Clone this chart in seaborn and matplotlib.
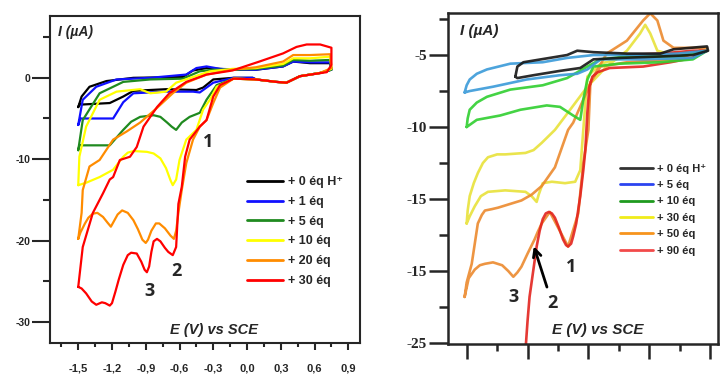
import numpy as np
import pandas as pd
import matplotlib
matplotlib.use("Agg")
import matplotlib.pyplot as plt
from matplotlib.lines import Line2D
import seaborn as sns

# ---------------- left panel: E (V) / I (uA) loops ----------------
left_labels = ["+ 0 éq H⁺", "+ 1 éq", "+ 5 éq", "+ 10 éq", "+ 20 éq", "+ 30 éq"]
left_colors = ["#000000", "#1010ff", "#1f8a1f", "#ffff00", "#ff8c00", "#ff0000"]

L0_E = [-1.50, -1.47, -1.40, -1.25, -1.01, -0.57, -0.48, -0.36, -0.13, 0.08, 0.32, 0.41, 0.56, 0.74,
        0.75, 0.65, 0.47, 0.41, 0.35, 0.26, 0.08, 0.05, -0.12, -0.30, -0.39, -0.45, -0.72, -1.01,
        -1.10, -1.22, -1.49, -1.50]
L0_I = [-3.6, -2.3, -1.1, -0.4, 0.0, 0.1, 0.9, 1.2, 1.0, 1.0, 1.4, 2.0, 1.8, 1.8,
        1.0, 0.6, 0.2, -0.2, -0.6, -0.5, -0.2, 0.0, 0.0, -0.2, -1.2, -1.5, -1.4, -1.6,
        -2.3, -3.1, -3.3, -3.6]

L1_E = [-1.50, -1.46, -1.34, -1.16, -0.86, -0.54, -0.45, -0.36, -0.24, -0.05, 0.08, 0.32, 0.41, 0.56,
        0.74, 0.75, 0.65, 0.47, 0.41, 0.35, 0.26, 0.08, 0.05, -0.12, -0.30, -0.36, -0.42, -0.48,
        -0.72, -1.01, -1.10, -1.19, -1.31, -1.48, -1.50]
L1_I = [-5.8, -2.7, -1.1, -0.2, 0.0, 0.4, 1.2, 1.4, 1.1, 1.0, 1.0, 1.4, 2.0, 1.9,
        1.9, 1.0, 0.6, 0.2, -0.2, -0.6, -0.5, -0.2, 0.0, 0.0, -0.6, -1.2, -1.8, -1.7,
        -1.7, -1.9, -3.0, -5.0, -5.0, -5.0, -5.8]

L5_E = [-1.50, -1.46, -1.31, -1.10, -0.86, -0.57, -0.42, -0.30, -0.13, 0.08, 0.32, 0.41, 0.56, 0.74,
        0.75, 0.65, 0.47, 0.41, 0.35, 0.26, 0.08, -0.12, -0.27, -0.36, -0.42, -0.51, -0.58, -0.63,
        -0.67, -0.71, -0.77, -0.83, -0.95, -1.03, -1.10, -1.22, -1.37, -1.49, -1.50]
L5_I = [-8.9, -5.2, -1.9, -0.5, -0.2, -0.1, 0.8, 1.0, 1.0, 1.1, 1.5, 2.2, 2.1, 2.2,
        1.0, 0.6, 0.2, -0.2, -0.6, -0.5, -0.2, -0.1, -0.9, -2.7, -4.3, -4.8, -5.5, -6.4,
        -6.0, -5.5, -4.8, -4.6, -4.8, -5.4, -6.4, -8.3, -8.3, -8.3, -8.9]

L10_E = [-1.50, -1.49, -1.43, -1.31, -1.16, -0.95, -0.86, -0.72, -0.63, -0.48, -0.33, -0.13, 0.08,
         0.32, 0.41, 0.56, 0.74, 0.75, 0.65, 0.47, 0.41, 0.35, 0.26, 0.08, -0.12, -0.27, -0.33,
         -0.39, -0.45, -0.54, -0.60, -0.63, -0.66, -0.68, -0.72, -0.77, -0.83, -0.89, -1.01,
         -1.06, -1.10, -1.19, -1.31, -1.43, -1.50]
L10_I = [-13.2, -9.7, -6.0, -2.7, -1.7, -1.4, -1.9, -1.7, -0.6, 0.1, 0.8, 1.1, 1.2,
         1.7, 2.4, 2.4, 2.6, 1.1, 0.6, 0.2, -0.2, -0.6, -0.5, -0.2, -0.1, -1.1, -2.7,
         -3.9, -6.4, -7.6, -10.1, -12.5, -13.2, -12.6, -11.1, -9.9, -9.3, -9.1, -9.0,
         -9.2, -9.7, -11.3, -12.2, -12.9, -13.2]

L20_E = [-1.50, -1.47, -1.46, -1.40, -1.31, -1.19, -1.07, -0.95, -0.80, -0.66, -0.54, -0.36, -0.13,
         0.08, 0.32, 0.41, 0.56, 0.74, 0.75, 0.65, 0.47, 0.41, 0.35, 0.26, 0.08, -0.12, -0.24,
         -0.30, -0.36, -0.42, -0.48, -0.54, -0.58, -0.61, -0.63, -0.65, -0.68, -0.73, -0.78,
         -0.81, -0.85, -0.88, -0.90, -0.93, -0.97, -1.01, -1.06, -1.11, -1.15, -1.19, -1.21,
         -1.24, -1.28, -1.33, -1.37, -1.41, -1.44, -1.48, -1.50]
L20_I = [-19.8, -16.6, -13.8, -10.9, -10.1, -7.6, -6.6, -5.5, -3.7, -1.9, -0.6, 0.4, 1.0,
         1.3, 2.0, 2.8, 2.8, 2.9, 1.2, 0.6, 0.2, -0.2, -0.6, -0.5, -0.2, -0.1, -1.2,
         -3.1, -5.2, -6.0, -7.6, -10.5, -13.8, -16.6, -18.8, -19.8, -19.4, -18.5, -17.9,
         -17.9, -18.8, -19.9, -20.3, -19.9, -18.6, -17.5, -16.6, -16.3, -16.8, -17.8, -18.3,
         -17.8, -17.1, -16.6, -16.7, -17.2, -17.9, -19.0, -19.8]

L30_E = [-1.50, -1.46, -1.37, -1.28, -1.22, -1.19, -1.13, -1.04, -0.98, -0.92, -0.80, -0.69, -0.54,
         -0.36, -0.13, 0.11, 0.32, 0.44, 0.53, 0.65, 0.75, 0.75, 0.71, 0.47, 0.41, 0.35, 0.26, 0.08,
         -0.12, -0.24, -0.30, -0.36, -0.42, -0.51, -0.55, -0.58, -0.61, -0.63, -0.66, -0.70,
         -0.73, -0.77, -0.80, -0.83, -0.85, -0.87, -0.89, -0.91, -0.94, -0.98, -1.03, -1.06,
         -1.10, -1.14, -1.17, -1.20, -1.22, -1.26, -1.29, -1.34, -1.38, -1.43, -1.47, -1.50]
L30_I = [-25.7, -20.8, -16.6, -14.2, -12.5, -12.2, -10.1, -9.7, -8.5, -6.0, -3.6, -1.9, -0.5,
         0.4, 0.9, 2.0, 3.0, 3.8, 4.1, 4.1, 3.7, 1.6, 0.7, 0.2, -0.2, -0.6, -0.5, -0.2,
         -0.1, -0.9, -2.3, -5.2, -6.0, -7.6, -9.7, -13.4, -15.5, -20.8, -21.8, -21.4,
         -20.9, -20.1, -19.8, -20.1, -21.4, -23.2, -23.9, -23.6, -22.6, -21.6, -21.5, -21.8,
         -23.0, -24.8, -26.3, -27.7, -28.0, -27.7, -27.6, -27.9, -27.5, -26.5, -25.9, -25.7]

left_E = [L0_E, L1_E, L5_E, L10_E, L20_E, L30_E]
left_I = [L0_I, L1_I, L5_I, L10_I, L20_I, L30_I]

# ---------------- right panel ----------------
right_labels = ["+ 0 éq H⁺", "+ 5 éq", "+ 10 éq", "+ 30 éq", "+ 50 éq", "+ 90 éq"]
right_line_colors = ["#151515", "#3a9ad9", "#2fcf2f", "#e8e23a", "#ec8a2e", "#e3241f"]
right_legend_colors = ["#333333", "#2b44f0", "#1f9a1f", "#f0ec1a", "#f7941d", "#f24a4a"]

R0_E = [-1.02, -1.00, -0.94, -0.51, -0.41, -0.25, 0.08, 0.41, 0.54, 0.87, 0.88,
        0.73, 0.41, 0.01, -0.25, -0.38, -0.58, -0.84, -1.00, -1.02]
R0_I = [-6.5, -5.8, -5.5, -5.0, -4.7, -4.8, -4.9, -4.9, -4.6, -4.4, -4.7,
        -5.0, -5.1, -5.2, -5.3, -5.9, -6.1, -6.4, -6.6, -6.5]

R5_E = [-1.52, -1.50, -1.47, -1.40, -1.30, -1.07, -0.75, -0.51, -0.25, 0.08, 0.58, 0.87,
        0.73, 0.24, -0.18, -0.31, -0.41, -0.58, -0.91, -1.24, -1.47, -1.52]
R5_I = [-7.6, -7.1, -6.7, -6.3, -6.0, -5.6, -5.5, -5.2, -5.0, -5.0, -4.9, -4.7,
        -5.2, -5.3, -5.3, -6.0, -6.3, -6.4, -6.7, -7.2, -7.5, -7.6]

R10_E = [-1.50, -1.49, -1.47, -1.40, -1.30, -1.07, -0.75, -0.51, -0.31, -0.18, 0.08, 0.58, 0.87,
         0.73, 0.41, 0.01, -0.25, -0.31, -0.35, -0.38, -0.45, -0.58, -0.71, -0.97, -1.17, -1.40, -1.50]
R10_I = [-10.0, -9.4, -8.8, -8.3, -7.9, -7.4, -7.1, -6.6, -5.8, -5.3, -5.1, -5.1, -4.7,
         -5.3, -5.5, -5.6, -5.8, -6.7, -8.1, -9.5, -9.2, -8.6, -8.5, -8.8, -9.2, -9.5, -10.0]

R30_E = [-1.50, -1.49, -1.47, -1.43, -1.39, -1.34, -1.29, -1.20, -1.12, -0.92, -0.84, -0.76, -0.63,
         -0.48, -0.31, -0.12, 0.08, 0.21, 0.26, 0.31, 0.38, 0.48, 0.87, 0.58, 0.08, -0.18, -0.31,
         -0.35, -0.38, -0.43, -0.53, -0.66, -0.75, -0.79, -0.81, -0.86, -0.92, -1.12, -1.29,
         -1.36, -1.42, -1.47, -1.50]
R30_I = [-16.7, -15.8, -14.8, -13.9, -13.2, -12.5, -12.1, -11.9, -11.9, -11.8, -11.6, -11.1, -10.2,
         -8.8, -7.2, -5.8, -4.7, -3.5, -2.9, -3.5, -4.7, -4.9, -4.7, -5.1, -5.1, -5.6, -6.5,
         -10.2, -13.0, -13.8, -13.9, -13.8, -13.9, -14.7, -15.2, -14.8, -14.5, -14.4, -14.5,
         -14.8, -15.5, -16.2, -16.7]

R50_E = [-1.52, -1.50, -1.45, -1.39, -1.35, -1.32, -1.25, -1.19, -0.96, -0.86, -0.76, -0.63, -0.50,
         -0.45, -0.35, -0.25, -0.12, 0.08, 0.24, 0.31, 0.38, 0.44, 0.54, 0.87, 0.58, 0.08, -0.18,
         -0.28, -0.30, -0.35, -0.40, -0.50, -0.68, -0.76, -0.80, -0.83, -0.90, -0.96, -1.00,
         -1.04, -1.09, -1.15, -1.24, -1.32, -1.37, -1.42, -1.48, -1.52]
R50_I = [-21.8, -20.8, -19.5, -16.7, -16.1, -15.8, -15.7, -15.6, -15.1, -14.7, -14.1, -12.8, -10.2,
         -9.7, -8.1, -6.5, -4.9, -4.0, -2.6, -2.1, -2.6, -4.0, -4.5, -4.5, -5.3, -5.5, -5.8,
         -6.9, -10.2, -12.5, -16.0, -18.3, -15.9, -16.7, -17.3, -17.8, -18.8, -19.7, -20.1,
         -20.4, -20.0, -19.6, -19.4, -19.5, -19.6, -19.9, -20.5, -21.8]

R90_E = [-0.92, -0.90, -0.88, -0.84, -0.81, -0.78, -0.75, -0.72, -0.69, -0.66, -0.63, -0.59, -0.55,
         -0.52, -0.50, -0.47, -0.45, -0.42, -0.38, -0.35, -0.33, -0.31, -0.29, -0.26, -0.21,
         -0.09, 0.24, 0.51, 0.73, 0.87, 0.73, 0.41, 0.08]
R90_I = [-25.5, -23.5, -21.8, -19.8, -18.3, -17.2, -16.4, -16.0, -15.9, -16.0, -16.3, -17.0, -17.8,
         -18.2, -18.3, -18.1, -17.6, -16.7, -14.8, -13.0, -11.6, -9.0, -7.2, -6.5, -6.2,
         -5.9, -5.8, -5.5, -5.2, -4.7, -4.7, -4.9, -5.0]

right_E = [R0_E, R5_E, R10_E, R30_E, R50_E, R90_E]
right_I = [R0_I, R5_I, R10_I, R30_I, R50_I, R90_I]
right_order = [3, 4, 5, 2, 1, 0]

left_xticks = [-1.5, -1.2, -0.9, -0.6, -0.3, 0.0, 0.3, 0.6, 0.9]
left_xticklabels = ["-1,5", "-1,2", "-0,9", "-0,6", "-0,3", "0,0", "0,3", "0,6", "0,9"]
left_yticks = [0, -10, -20, -30]
right_yticks = [-5, -10, -15, -20, -25]
right_yticklabels = ["-5", "-10", "-15", "-15", "-25"]

# peak numbers: (text, E, I)
left_peaks = [("1", -0.35, -7.9), ("2", -0.63, -23.7), ("3", -0.87, -26.2)]
right_peaks = [("1", -0.47, -19.7), ("2", -0.65, -22.2), ("3", -1.04, -21.8)]
right_arrow = ((-0.846, -18.1), (-0.70, -21.3))

sns.set_style("ticks")
plt.rcParams["font.family"] = ["Liberation Sans", "DejaVu Sans"]
plt.rcParams["axes.linewidth"] = 1.5

fig = plt.figure(figsize=(7.2, 3.76), dpi=100)
ax1 = fig.add_axes([50 / 720, 1 - 343 / 376, 310 / 720, 327 / 376])
ax2 = fig.add_axes([448 / 720, 1 - 344 / 376, 270 / 720, 331 / 376])

for E, I, c in zip(left_E, left_I, left_colors):
    sns.lineplot(x=E, y=I, sort=False, estimator=None, color=c, lw=1.6, ax=ax1)

for k in right_order:
    sns.lineplot(x=right_E[k], y=right_I[k], sort=False, estimator=None,
                 color=right_line_colors[k], lw=1.9, alpha=0.9, ax=ax2)

# ---- left axis styling
ax1.set_xlim(-1.751, 1.004)
ax1.set_ylim(-32.6, 7.6)
ax1.set_xticks(left_xticks)
ax1.set_xticklabels(left_xticklabels, fontweight="bold", fontsize=8)
ax1.set_xticks(np.array(left_xticks) - 0.15, minor=True)
ax1.set_yticks(left_yticks)
ax1.set_yticklabels([str(v) for v in left_yticks], fontweight="bold", fontsize=7.5)
ax1.set_yticks([5, -5, -15, -25], minor=True)
ax1.tick_params(axis="x", which="major", length=5, width=1.5, pad=10)
ax1.tick_params(axis="x", which="minor", length=3, width=1.5)
ax1.tick_params(axis="y", which="major", length=13, width=1.5, pad=1)
ax1.tick_params(axis="y", which="minor", length=5, width=1.5)
ax1.set_xlabel("")
ax1.set_ylabel("")
ax1.text(0.026, 0.951, "I (µA)", transform=ax1.transAxes, fontsize=10,
         fontweight="bold", style="italic", va="center", ha="left")
ax1.text(0.529, 0.040, "E (V) vs SCE", transform=ax1.transAxes, fontsize=10.5,
         fontweight="bold", style="italic", va="center", ha="center")
for t, e, i in left_peaks:
    ax1.text(e, i, t, fontsize=13, fontweight="bold", ha="center", va="center",
             family=["Open Sans", "DejaVu Sans"])

h1 = [Line2D([0], [0], color=c, lw=2) for c in left_colors]
ax1.legend(h1, left_labels, loc="upper left", bbox_to_anchor=(0.635, 0.51),
           frameon=False, borderaxespad=0, borderpad=0, handlelength=2.9,
           handletextpad=0.4, labelspacing=0.62,
           prop={"weight": "bold", "size": 9})

# ---- right axis styling
ax2.set_xlim(-1.684, 0.978)
ax2.set_ylim(-25.07, -2.08)
ax2.set_xticks([-1.5, -0.9, -0.3, 0.3, 0.9])
ax2.set_xticks([-1.2, -0.6, 0.0, 0.6], minor=True)
ax2.set_xticklabels([])
ax2.set_yticks(right_yticks)
ax2.set_yticklabels(right_yticklabels, fontweight="bold", fontsize=11,
                    family=["Liberation Serif", "DejaVu Serif"])
ax2.set_yticks([-2.5, -7.5, -12.5, -17.5, -22.5], minor=True)
for s in ax2.spines.values():
    s.set_linewidth(1.8)
ax2.tick_params(axis="x", which="major", length=11, width=1.8)
ax2.tick_params(axis="x", which="minor", length=5, width=1.8)
ax2.tick_params(axis="y", which="major", length=14, width=1.8, pad=1)
ax2.tick_params(axis="y", which="minor", length=6.5, width=1.8)
ax2.set_xlabel("")
ax2.set_ylabel("")
ax2.text(0.044, 0.946, "I (µA)", transform=ax2.transAxes, fontsize=11,
         fontweight="bold", style="italic", va="center", ha="left")
ax2.text(0.556, 0.042, "E (V) vs SCE", transform=ax2.transAxes, fontsize=11,
         fontweight="bold", style="italic", va="center", ha="center")
for t, e, i in right_peaks:
    ax2.text(e, i, t, fontsize=13, fontweight="bold", ha="center", va="center",
             family=["Open Sans", "DejaVu Sans"])
ax2.annotate("", xy=right_arrow[0], xytext=right_arrow[1],
             arrowprops=dict(arrowstyle="->", lw=2, color="black", mutation_scale=14))

h2 = [Line2D([0], [0], color=c, lw=2) for c in right_legend_colors]
ax2.legend(h2, right_labels, loc="upper left", bbox_to_anchor=(0.637, 0.545),
           frameon=False, borderaxespad=0, borderpad=0, handlelength=3.0,
           handletextpad=0.3, labelspacing=0.58,
           prop={"weight": "bold", "size": 8})

fig.savefig("out.png", dpi=100)
